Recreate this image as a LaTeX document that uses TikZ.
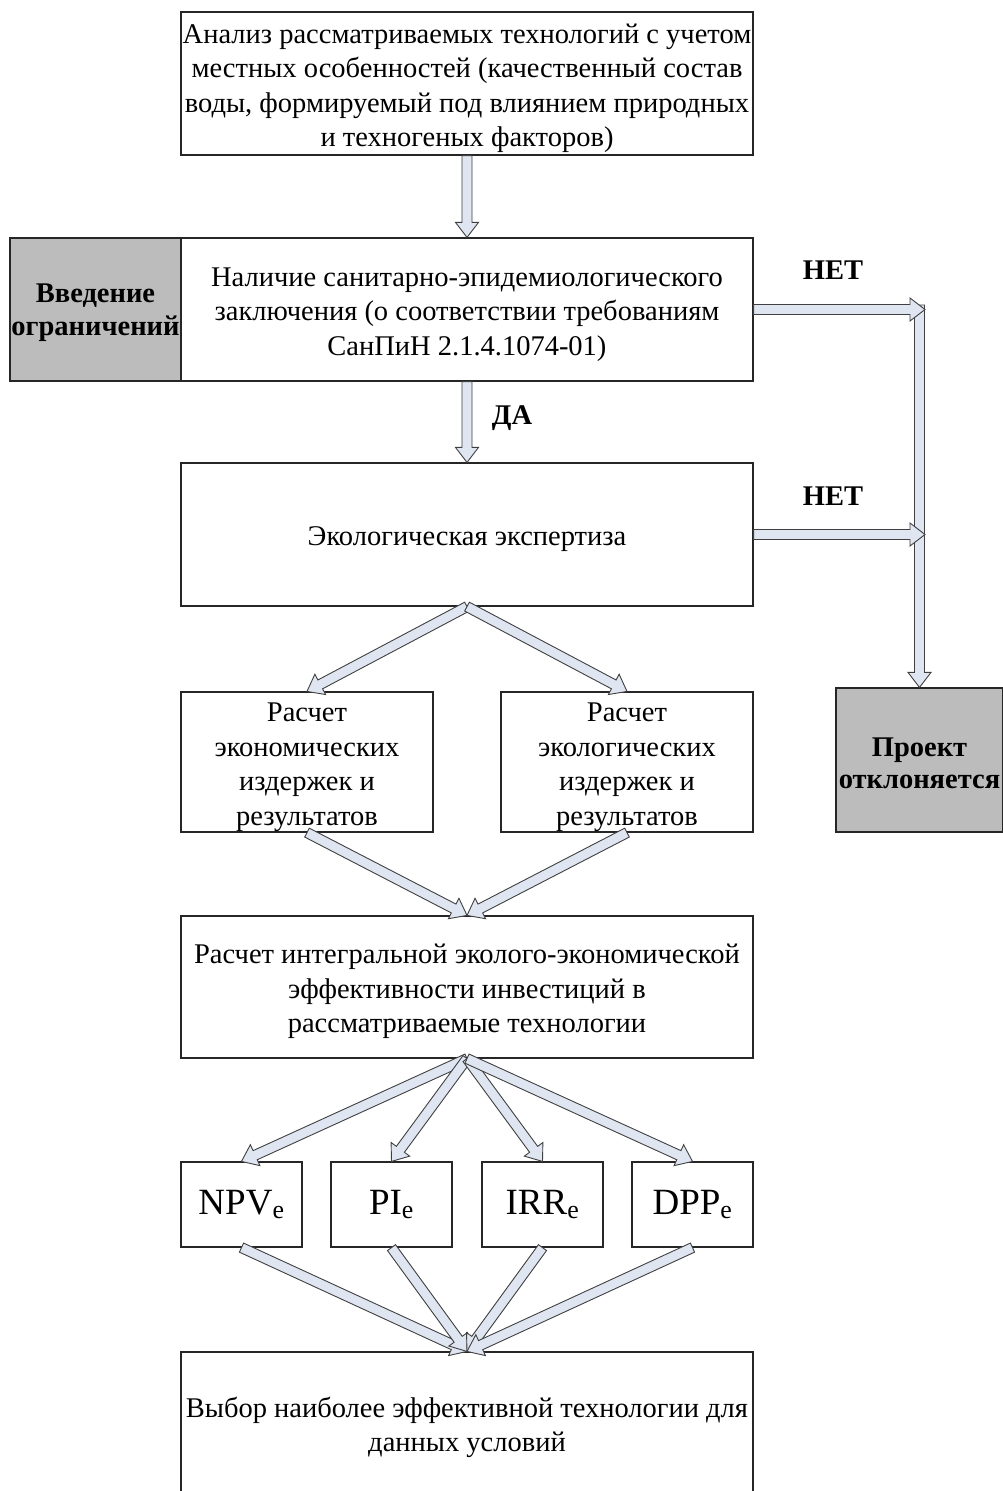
\documentclass[tikz,border=0pt]{standalone}
\usepackage{fontspec}
\setmainfont{Liberation Serif}
\usetikzlibrary{calc}
\definecolor{arrfill}{HTML}{DFE6F2}
\definecolor{arredge}{HTML}{404040}
\definecolor{limgray}{HTML}{BCBCBC}
\newcommand\tstrut{\rule{0pt}{29pt}}
\tikzset{
  box/.style={draw=black!85, line width=1.2pt, fill=white, rectangle, inner sep=0pt, align=center,
    font=\fontsize{28.5}{34.5}\selectfont},
  graybox/.style={box, fill=limgray, font=\fontsize{28.5}{32.5}\selectfont\bfseries},
  mbox/.style={box, font=\fontsize{37}{42}\selectfont},
  fatarr/.style={draw=arredge, line width=0.9pt, fill=arrfill, line join=miter},
  lbl/.style={font=\fontsize{28.5}{30}\selectfont\bfseries, inner sep=0pt}
}
\newcommand\fatarrow[2]{%
  \coordinate (faH) at ($(#2)!15pt!(#1)$);
  \draw[fatarr] ($(#1)!5pt!90:(#2)$) -- ($(faH)!5pt!-90:(#1)$) -- ($(faH)!11.5pt!-90:(#1)$) -- (#2)
    -- ($(faH)!11.5pt!90:(#1)$) -- ($(faH)!5pt!90:(#1)$) -- ($(#1)!5pt!-90:(#2)$) -- cycle;
}
\begin{document}
\begin{tikzpicture}[x=1pt, y=-1pt]
\useasboundingbox (0,0) rectangle (1003,1491);
\clip (0,0) rectangle (1003,1491);
\fill[white] (0,0) rectangle (1003,1491);

\node[box, minimum width=572pt, minimum height=143pt] (b1) at (467,83.5)
  {\tstrut Анализ рассматриваемых технологий с учетом\\местных особенностей (качественный состав\\воды, формируемый под влиянием природных\\и техногеных факторов)};
\node[box, minimum width=572pt, minimum height=143pt] (b2) at (467,309.5)
  {\tstrut Наличие санитарно-эпидемиологического\\заключения (о соответствии требованиям\\СанПиН 2.1.4.1074-01)};
\node[graybox, minimum width=171pt, minimum height=143pt] (lim) at (95.5,309.5)
  {\rule{0pt}{25pt}Введение\\ограничений};
\node[box, minimum width=572pt, minimum height=143pt] (b3) at (467,534.5)
  {\tstrut Экологическая экспертиза};
\node[box, minimum width=252pt, minimum height=140pt] (b4a) at (307,762)
  {\tstrut Расчет\\экономических\\издержек и\\результатов};
\node[box, minimum width=252pt, minimum height=140pt] (b4b) at (627,762)
  {\tstrut Расчет\\экологических\\издержек и\\результатов};
\node[graybox, minimum width=167pt, minimum height=144pt] (rej) at (919.5,760)
  {\rule{0pt}{25pt}Проект\\отклоняется};
\node[box, minimum width=572pt, minimum height=142pt] (b5) at (467,987)
  {\tstrut Расчет интегральной эколого-экономической\\эффективности инвестиций в\\рассматриваемые технологии};
\node[mbox, minimum width=121pt, minimum height=85pt] (npv) at (241.5,1204.5) {NPV\textsubscript{e}};
\node[mbox, minimum width=121pt, minimum height=85pt] (pi) at (391.5,1204.5) {PI\textsubscript{e}};
\node[mbox, minimum width=121pt, minimum height=85pt] (irr) at (542.5,1204.5) {IRR\textsubscript{e}};
\node[mbox, minimum width=121pt, minimum height=85pt] (dpp) at (692.5,1204.5) {DPP\textsubscript{e}};
\node[box, minimum width=572pt, minimum height=142pt] (fin) at (467,1423)
  {\tstrut Выбор наиболее эффективной технологии для\\данных условий};

\coordinate (c0) at (919.5,305);
\coordinate (c1) at (925,309.5);
\coordinate (c2) at (925,534.5);

\fatarrow{c0}{rej.north}
\fatarrow{b1.south}{b2.north}
\fatarrow{b2.south}{b3.north}
\fatarrow{b2.east}{c1}
\fatarrow{b3.east}{c2}
\fatarrow{b3.south}{b4a.north}
\fatarrow{b3.south}{b4b.north}
\fatarrow{b4a.south}{b5.north}
\fatarrow{b4b.south}{b5.north}
\fatarrow{b5.south}{npv.north}
\fatarrow{b5.south}{pi.north}
\fatarrow{b5.south}{irr.north}
\fatarrow{b5.south}{dpp.north}
\fatarrow{npv.south}{fin.north}
\fatarrow{pi.south}{fin.north}
\fatarrow{irr.south}{fin.north}
\fatarrow{dpp.south}{fin.north}

\node[lbl] (net1) at (833,270) {НЕТ};
\node[lbl] (net2) at (833,496) {НЕТ};
\node[lbl] (da) at (512,418) {ДА};
\end{tikzpicture}
\end{document}
